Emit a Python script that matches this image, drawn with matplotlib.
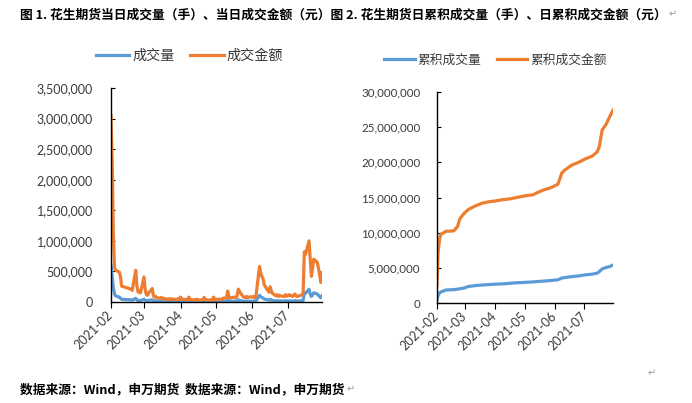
import matplotlib
matplotlib.use("Agg")
import matplotlib.pyplot as plt
import matplotlib.dates as mdates
from matplotlib.ticker import FuncFormatter, MultipleLocator
import pandas as pd

# ---------------- data ----------------
trade_days = {
    "2021-02": [1, 2, 3, 4, 5, 8, 9, 10, 18, 19, 22, 23, 24, 25, 26],
    "2021-03": [1, 2, 3, 4, 5, 8, 9, 10, 11, 12, 15, 16, 17, 18, 19, 22, 23, 24, 25, 26, 29, 30, 31],
    "2021-04": [1, 2, 6, 7, 8, 9, 12, 13, 14, 15, 16, 19, 20, 21, 22, 23, 26, 27, 28, 29, 30],
    "2021-05": [6, 7, 10, 11, 12, 13, 14, 17, 18, 19, 20, 21, 24, 25, 26, 27, 28, 31],
    "2021-06": [1, 2, 3, 4, 7, 8, 9, 10, 11, 15, 16, 17, 18, 21, 22, 23, 24, 25, 28, 29, 30],
    "2021-07": [1, 2, 5, 6, 7, 8, 9, 12, 13, 14, 15, 16, 19, 20, 21, 22, 23, 26, 27, 28, 29, 30],
}

# daily turnover amount (成交金额)
amount_daily = [
    3050000, 2300000, 1100000, 560000, 520000, 490000, 420000, 260000, 210000, 190000, 520000, 260000, 160000, 180000, 150000,
    410000, 200000, 120000, 110000, 150000, 220000, 100000, 80000, 90000, 70000, 60000, 75000, 55000, 60000, 50000, 45000, 55000, 40000, 50000, 45000, 40000, 55000, 45000,
    80000, 45000, 40000, 35000, 80000, 40000, 35000, 40000, 35000, 45000, 30000, 35000, 40000, 75000, 40000, 35000, 30000, 40000, 35000, 80000, 45000,
    45000, 60000, 70000, 180000, 90000, 60000, 70000, 80000, 70000, 100000, 210000, 170000, 90000, 80000, 70000, 90000, 75000, 85000,
    80000, 90000, 70000, 100000, 580000, 470000, 420000, 380000, 280000, 160000, 250000, 180000, 140000, 100000, 120000, 90000, 110000, 100000, 90000, 120000, 95000,
    100000, 120000, 90000, 110000, 130000, 100000, 90000, 110000, 120000, 150000, 820000, 780000, 1000000, 700000, 420000, 550000, 700000, 650000, 550000, 450000, 320000, 480000,
]

# daily volume (成交量)
volume_daily = [
    600000, 420000, 230000, 130000, 100000, 80000, 60000, 45000, 35000, 30000, 60000, 35000, 25000, 25000, 22000,
    45000, 30000, 25000, 22000, 28000, 35000, 20000, 18000, 18000, 15000, 14000, 15000, 12000, 13000, 11000, 10000, 12000, 9000, 10000, 10000, 9000, 11000, 10000,
    14000, 10000, 9000, 8000, 14000, 9000, 8000, 9000, 8000, 10000, 7000, 8000, 9000, 13000, 9000, 8000, 7000, 9000, 8000, 14000, 10000,
    9000, 11000, 12000, 30000, 15000, 11000, 12000, 13000, 12000, 18000, 35000, 28000, 15000, 13000, 12000, 15000, 13000, 14000,
    13000, 15000, 12000, 18000, 110000, 85000, 75000, 65000, 50000, 30000, 45000, 32000, 25000, 18000, 22000, 16000, 20000, 18000, 16000, 21000, 17000,
    17000, 20000, 15000, 18000, 22000, 17000, 15000, 19000, 20000, 28000, 150000, 140000, 210000, 130000, 90000, 120000, 150000, 130000, 110000, 90000, 70000, 100000,
]

cum_dates = [
    "2021-02-01", "2021-02-02", "2021-02-03", "2021-02-04", "2021-02-05", "2021-02-08", "2021-02-09", "2021-02-10",
    "2021-02-18", "2021-02-19", "2021-02-22", "2021-02-23", "2021-02-24", "2021-02-26", "2021-03-01", "2021-03-05",
    "2021-03-09", "2021-03-12", "2021-03-19", "2021-03-26", "2021-04-01", "2021-04-09", "2021-04-16", "2021-04-23",
    "2021-04-30", "2021-05-10", "2021-05-14", "2021-05-21", "2021-05-28", "2021-06-04", "2021-06-08", "2021-06-11",
    "2021-06-18", "2021-06-25", "2021-07-02", "2021-07-09", "2021-07-14", "2021-07-16", "2021-07-19", "2021-07-21",
    "2021-07-23", "2021-07-27", "2021-07-30",
]
# cumulative amount (累积成交金额)
cum_amount = [
    2500000, 6800000, 8400000, 9300000, 9800000, 10000000, 10100000, 10200000,
    10250000, 10400000, 10900000, 11400000, 11900000, 12300000, 12800000, 13300000,
    13600000, 13800000, 14200000, 14400000, 14500000, 14700000, 14800000, 15000000,
    15200000, 15400000, 15700000, 16100000, 16400000, 16900000, 18500000, 18900000,
    19600000, 20000000, 20500000, 20900000, 21500000, 22200000, 24600000, 25000000,
    25400000, 26600000, 27400000,
]
# cumulative volume (累积成交量)
cum_volume = [
    500000, 1000000, 1300000, 1500000, 1600000, 1700000, 1800000, 1850000,
    1900000, 1920000, 1970000, 2000000, 2020000, 2050000, 2150000, 2350000,
    2420000, 2480000, 2560000, 2620000, 2680000, 2720000, 2800000, 2880000,
    2920000, 3000000, 3050000, 3120000, 3200000, 3300000, 3550000, 3620000,
    3750000, 3850000, 4000000, 4100000, 4250000, 4450000, 4850000, 4950000,
    5050000, 5200000, 5400000,
]

month_ticks = ["2021-02-01", "2021-03-01", "2021-04-01", "2021-05-01", "2021-06-01", "2021-07-01"]

title_text = "图 1. 花生期货当日成交量（手）、当日成交金额（元）图 2. 花生期货日累积成交量（手）、日累积成交金额（元）"
source_text = "数据来源：Wind，申万期货  数据来源：Wind，申万期货"
para_mark = "↵"

# ---------------- drawing ----------------
BLUE = "#5B9BD5"
ORANGE = "#ED7D31"
TXT = "#3a3a3a"
MARK = "#9a9a9a"
CJK = ["Noto Sans CJK SC", "DejaVu Sans"]
NUM = ["Lato", "DejaVu Sans"]

dates = pd.to_datetime([f"{m}-{d:02d}" for m, days in trade_days.items() for d in days])
cdates = pd.to_datetime(cum_dates)
mticks = pd.to_datetime(month_ticks)

fig = plt.figure(figsize=(6.92, 4.03), dpi=100)

comma = FuncFormatter(lambda v, p: f"{int(round(v)):,}")


def style_axis(ax, ysize, ypad):
    for s in ("top", "right"):
        ax.spines[s].set_visible(False)
    for s in ("left", "bottom"):
        ax.spines[s].set_color("black")
        ax.spines[s].set_linewidth(1.0)
    ax.set_xticks(mticks)
    ax.xaxis.set_major_formatter(mdates.DateFormatter("%Y-%m"))
    ax.tick_params(axis="y", direction="in", length=3, width=0.8, pad=ypad, labelsize=ysize, labelcolor=TXT)
    ax.tick_params(axis="x", direction="out", length=4, width=0.8, pad=4, labelsize=9, labelcolor=TXT)
    for lab in ax.get_yticklabels():
        lab.set_fontfamily(NUM)
    for lab in ax.get_xticklabels():
        lab.set_fontfamily(NUM)
        lab.set_rotation(45)
        lab.set_ha("right")
        lab.set_va("center")
        lab.set_rotation_mode("anchor")
    ax.yaxis.set_major_formatter(comma)


# left chart
ax1 = fig.add_axes([111 / 692, 1 - 302 / 403, (322 - 111) / 692, (302 - 88) / 403])
ax1.plot(dates, volume_daily, color=BLUE, lw=2.3, label="成交量", solid_joinstyle="round")
ax1.plot(dates, amount_daily, color=ORANGE, lw=2.3, label="成交金额", solid_joinstyle="round")
ax1.set_ylim(0, 3500000)
ax1.yaxis.set_major_locator(MultipleLocator(500000))
ax1.set_xlim(dates[0], dates[-1])
style_axis(ax1, 9, 13)
ax1.legend(loc="center", bbox_to_anchor=(189.5 / 692, 1 - 56 / 403), bbox_transform=fig.transFigure,
           ncol=2, frameon=False, prop={"family": CJK, "size": 10.2}, handlelength=2.35,
           handletextpad=0.2, columnspacing=1.1, labelcolor=TXT)

# right chart
ax2 = fig.add_axes([437 / 692, 1 - 303 / 403, (613 - 437) / 692, (303 - 92) / 403])
ax2.plot(cdates, cum_volume, color=BLUE, lw=2.3, label="累积成交量", solid_joinstyle="round")
ax2.plot(cdates, cum_amount, color=ORANGE, lw=2.3, label="累积成交金额", solid_joinstyle="round")
ax2.set_ylim(0, 30000000)
ax2.yaxis.set_major_locator(MultipleLocator(5000000))
ax2.set_xlim(cdates[0], cdates[-1])
style_axis(ax2, 8.3, 12)
ax2.legend(loc="center", bbox_to_anchor=(495.5 / 692, 1 - 60 / 403), bbox_transform=fig.transFigure,
           ncol=2, frameon=False, prop={"family": CJK, "size": 9.2}, handlelength=2.35,
           handletextpad=0.2, columnspacing=1.3, labelcolor=TXT)

# title and source lines, each followed by a grey paragraph mark
renderer = fig.canvas.get_renderer()
for txt, ypix in ((title_text, 15), (source_text, 390)):
    t = fig.text(20 / 692, 1 - ypix / 403, txt, ha="left", va="center", fontsize=9.2,
                 fontweight="bold", family=CJK, color="black")
    bb = t.get_window_extent(renderer=renderer)
    fig.text((bb.x1 + 2) / 692, 1 - (ypix - 1) / 403, para_mark, ha="left", va="center",
             fontsize=7, color=MARK, family=["DejaVu Sans"])
fig.text(652 / 692, 1 - 373 / 403, para_mark, ha="center", va="center", fontsize=7, color=MARK,
         family=["DejaVu Sans"])

fig.savefig("out.png", dpi=100, facecolor="white")
